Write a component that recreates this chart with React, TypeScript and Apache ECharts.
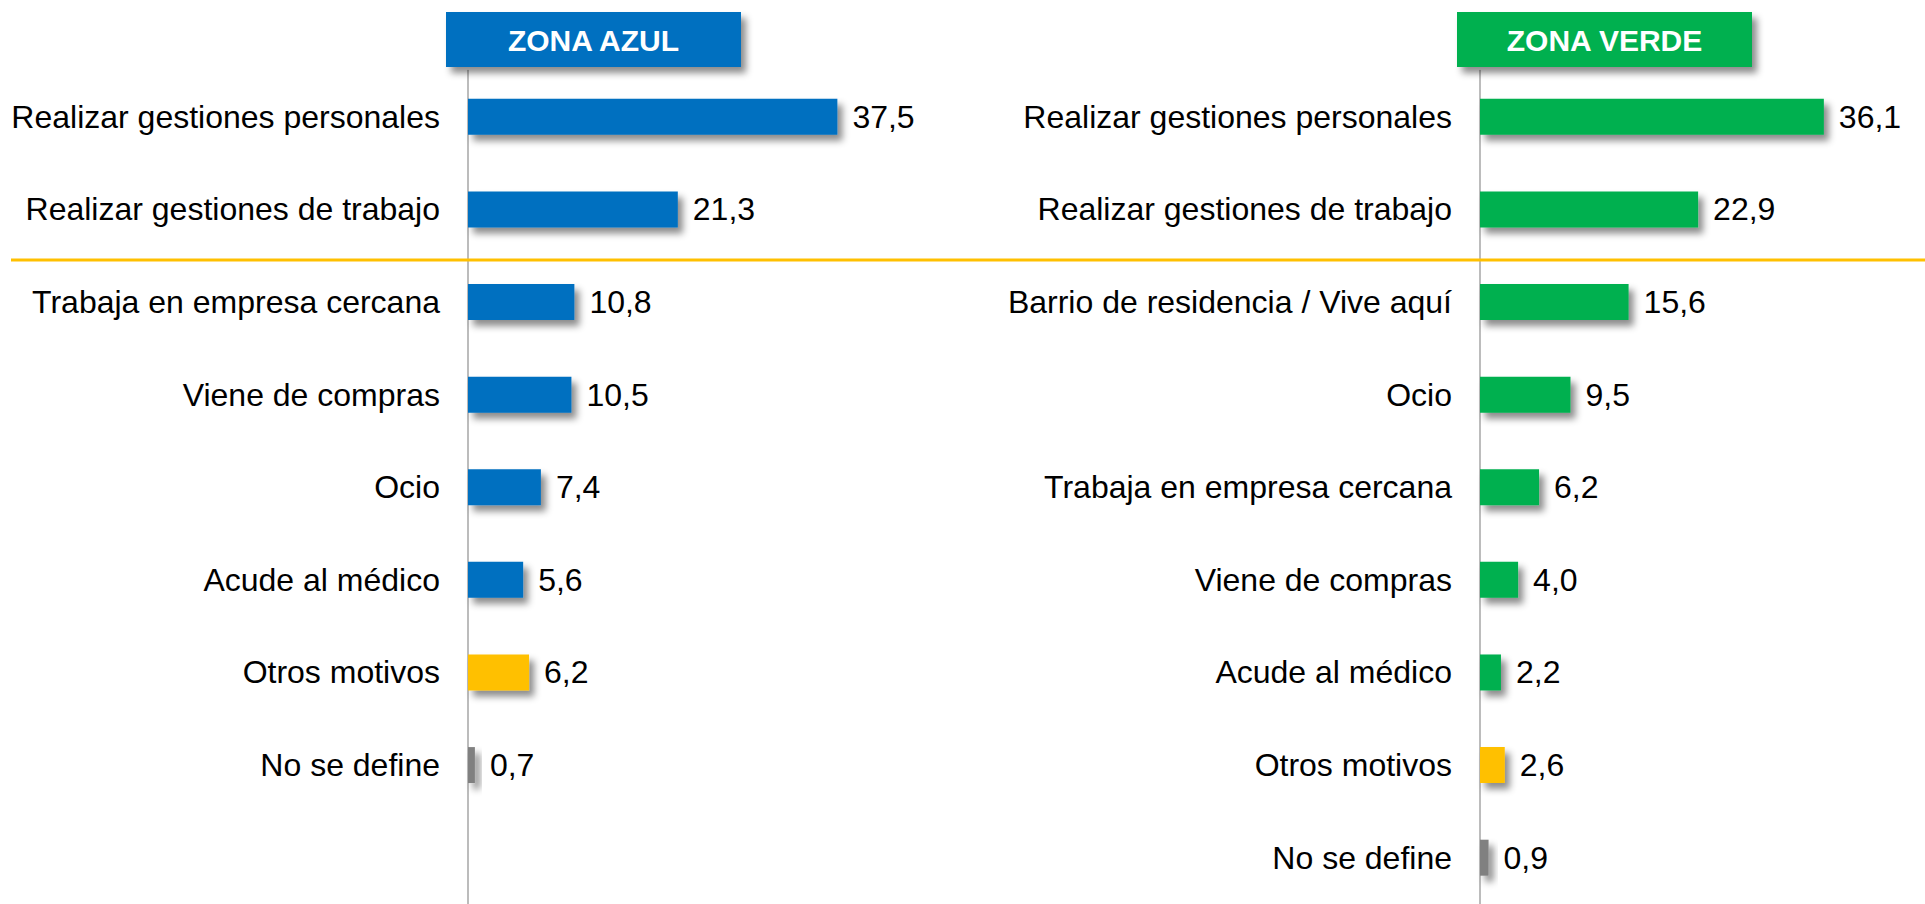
import React, { useEffect, useRef } from "react";
import * as echarts from "echarts";

const leftCategories = [
  "Realizar gestiones personales",
  "Realizar gestiones de trabajo",
  "Trabaja en empresa cercana",
  "Viene de compras",
  "Ocio",
  "Acude al médico",
  "Otros motivos",
  "No se define",
  "",
];
const leftValues: (number | null)[] = [37.5, 21.3, 10.8, 10.5, 7.4, 5.6, 6.2, 0.7, null];
const leftKinds = ["main", "main", "main", "main", "main", "main", "other", "none", "none"];

const rightCategories = [
  "Realizar gestiones personales",
  "Realizar gestiones de trabajo",
  "Barrio de residencia / Vive aquí",
  "Ocio",
  "Trabaja en empresa cercana",
  "Viene de compras",
  "Acude al médico",
  "Otros motivos",
  "No se define",
];
const rightValues: number[] = [36.1, 22.9, 15.6, 9.5, 6.2, 4.0, 2.2, 2.6, 0.9];
const rightKinds = ["main", "main", "main", "main", "main", "main", "main", "other", "none"];

const titles = ["ZONA AZUL", "ZONA VERDE"];

const BLUE = "#0070C0";
const GREEN = "#00B050";
const YELLOW = "#FFC000";
const GREY = "#808080";
const FONT = "'Liberation Sans', Arial, sans-serif";

function colorFor(kind: string, main: string) {
  if (kind === "other") return YELLOW;
  if (kind === "none") return GREY;
  return main;
}

const shadow = {
  shadowColor: "rgba(0,0,0,0.45)",
  shadowBlur: 7,
  shadowOffsetX: 5,
  shadowOffsetY: 6,
};

export default function App() {
  const ref = useRef<HTMLDivElement>(null);
  useEffect(() => {
    if (!ref.current) return;
    const chart = echarts.init(ref.current, null, { renderer: "svg" });
    const fmt = (p: any) => (p.value == null ? "" : Number(p.value).toFixed(1).replace(".", ","));
    const gridTop = 70.5;
    const gridH = 9 * 93.3;
    const yAxisCommon = {
      type: "category" as const,
      inverse: true,
      axisTick: { show: false },
      axisLine: { show: true, lineStyle: { color: "#A6A6A6", width: 1.5 } },
      axisLabel: { color: "#000", fontSize: 32, fontFamily: FONT, margin: 28 },
    };
    const valueLabel = {
      show: true,
      position: "right",
      distance: 15,
      color: "#000",
      fontSize: 32,
      fontFamily: FONT,
      formatter: fmt,
    };
    const option: any = {
      animation: false,
      grid: [
        { left: 468, top: gridTop, width: 394, height: gridH },
        { left: 1480, top: gridTop, width: 381, height: gridH },
      ],
      xAxis: [
        { type: "value", gridIndex: 0, min: 0, max: 40, show: false },
        { type: "value", gridIndex: 1, min: 0, max: 40, show: false },
      ],
      yAxis: [
        { ...yAxisCommon, gridIndex: 0, data: leftCategories },
        { ...yAxisCommon, gridIndex: 1, data: rightCategories },
      ],
      series: [
        {
          type: "bar",
          xAxisIndex: 0,
          yAxisIndex: 0,
          barWidth: 36,
          data: leftValues.map((v, i) => ({
            value: v,
            itemStyle: { color: colorFor(leftKinds[i], BLUE), ...shadow },
          })),
          label: valueLabel,
        },
        {
          type: "bar",
          xAxisIndex: 1,
          yAxisIndex: 1,
          barWidth: 36,
          data: rightValues.map((v, i) => ({
            value: v,
            itemStyle: { color: colorFor(rightKinds[i], GREEN), ...shadow },
          })),
          label: valueLabel,
        },
      ],
      graphic: [
        {
          type: "line",
          shape: { x1: 11, y1: 260, x2: 1925, y2: 260 },
          style: { stroke: YELLOW, lineWidth: 3 },
          z: 10,
        },
        {
          type: "rect",
          shape: { x: 446, y: 12, width: 295, height: 55 },
          style: { fill: BLUE, ...shadow },
          z: 10,
        },
        {
          type: "text",
          x: 593.5,
          y: 40,
          style: {
            text: titles[0],
            fill: "#fff",
            font: `bold 30px ${FONT}`,
            align: "center",
            verticalAlign: "middle",
          },
          z: 11,
        },
        {
          type: "rect",
          shape: { x: 1457, y: 12, width: 295, height: 55 },
          style: { fill: GREEN, ...shadow },
          z: 10,
        },
        {
          type: "text",
          x: 1604.5,
          y: 40,
          style: {
            text: titles[1],
            fill: "#fff",
            font: `bold 30px ${FONT}`,
            align: "center",
            verticalAlign: "middle",
          },
          z: 11,
        },
      ],
    };
    chart.setOption(option);
    return () => chart.dispose();
  }, []);
  return (
    <div
      ref={ref}
      style={{ position: "fixed", left: 0, top: 0, width: 1925, height: 904, background: "#fff" }}
    />
  );
}
